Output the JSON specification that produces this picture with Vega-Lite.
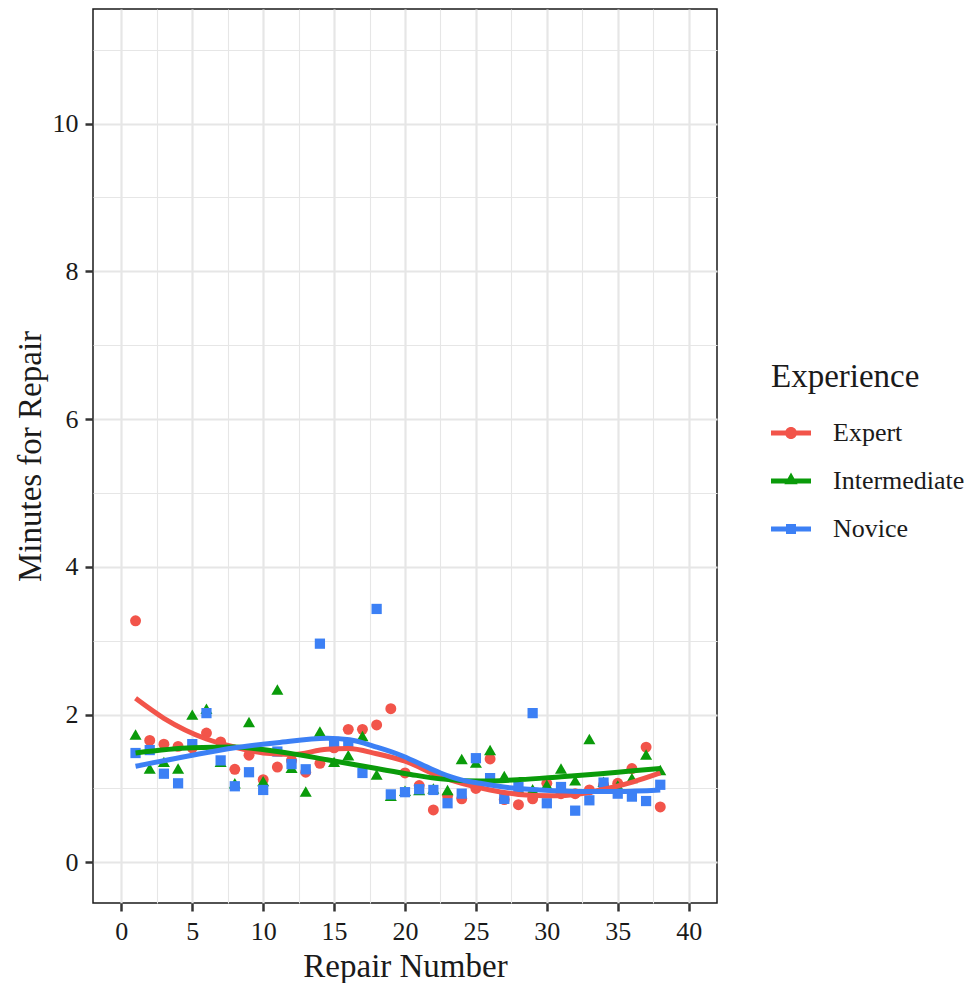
{
  "$schema": "https://vega.github.io/schema/vega-lite/v6.json",
  "width": 624,
  "height": 894,
  "autosize": "none",
  "padding": {"left": 93, "top": 9, "right": 256, "bottom": 80},
  "config": {
    "font": "Liberation Serif",
    "view": {"stroke": "#1a1a1a", "strokeWidth": 1.5},
    "axis": {"domain": false, "labelColor": "#1a1a1a", "titleColor": "#1a1a1a", "labelFontSize": 26, "titleFontSize": 33, "titleFontWeight": "normal", "tickColor": "#333333", "tickWidth": 2.5, "tickSize": 8, "labelPadding": 7, "gridColor": "#E6E6E6", "labelFlush": false, "labelOverlap": false}
  },
  "datasets": {
    "repairs": [
      {"n":1,"minutes":3.27,"Experience":"Expert"},{"n":2,"minutes":1.65,"Experience":"Expert"},{"n":3,"minutes":1.6,"Experience":"Expert"},{"n":4,"minutes":1.57,"Experience":"Expert"},{"n":5,"minutes":1.55,"Experience":"Expert"},{"n":6,"minutes":1.75,"Experience":"Expert"},{"n":7,"minutes":1.63,"Experience":"Expert"},{"n":8,"minutes":1.26,"Experience":"Expert"},{"n":9,"minutes":1.45,"Experience":"Expert"},{"n":10,"minutes":1.12,"Experience":"Expert"},{"n":11,"minutes":1.29,"Experience":"Expert"},{"n":12,"minutes":1.38,"Experience":"Expert"},{"n":13,"minutes":1.22,"Experience":"Expert"},{"n":14,"minutes":1.34,"Experience":"Expert"},{"n":15,"minutes":1.55,"Experience":"Expert"},{"n":16,"minutes":1.8,"Experience":"Expert"},{"n":17,"minutes":1.8,"Experience":"Expert"},{"n":18,"minutes":1.86,"Experience":"Expert"},{"n":19,"minutes":2.08,"Experience":"Expert"},{"n":20,"minutes":1.21,"Experience":"Expert"},{"n":21,"minutes":1.04,"Experience":"Expert"},{"n":22,"minutes":0.71,"Experience":"Expert"},{"n":23,"minutes":0.9,"Experience":"Expert"},{"n":24,"minutes":0.86,"Experience":"Expert"},{"n":25,"minutes":1.0,"Experience":"Expert"},{"n":26,"minutes":1.4,"Experience":"Expert"},{"n":27,"minutes":0.85,"Experience":"Expert"},{"n":28,"minutes":0.78,"Experience":"Expert"},{"n":29,"minutes":0.86,"Experience":"Expert"},{"n":30,"minutes":1.07,"Experience":"Expert"},{"n":31,"minutes":0.93,"Experience":"Expert"},{"n":32,"minutes":0.93,"Experience":"Expert"},{"n":33,"minutes":0.98,"Experience":"Expert"},{"n":34,"minutes":1.05,"Experience":"Expert"},{"n":35,"minutes":1.07,"Experience":"Expert"},{"n":36,"minutes":1.27,"Experience":"Expert"},{"n":37,"minutes":1.56,"Experience":"Expert"},{"n":38,"minutes":0.75,"Experience":"Expert"},
      {"n":1,"minutes":1.73,"Experience":"Intermediate"},{"n":2,"minutes":1.27,"Experience":"Intermediate"},{"n":3,"minutes":1.36,"Experience":"Intermediate"},{"n":4,"minutes":1.27,"Experience":"Intermediate"},{"n":5,"minutes":2.0,"Experience":"Intermediate"},{"n":6,"minutes":2.08,"Experience":"Intermediate"},{"n":7,"minutes":1.36,"Experience":"Intermediate"},{"n":8,"minutes":1.07,"Experience":"Intermediate"},{"n":9,"minutes":1.9,"Experience":"Intermediate"},{"n":10,"minutes":1.1,"Experience":"Intermediate"},{"n":11,"minutes":2.34,"Experience":"Intermediate"},{"n":12,"minutes":1.28,"Experience":"Intermediate"},{"n":13,"minutes":0.96,"Experience":"Intermediate"},{"n":14,"minutes":1.77,"Experience":"Intermediate"},{"n":15,"minutes":1.36,"Experience":"Intermediate"},{"n":16,"minutes":1.45,"Experience":"Intermediate"},{"n":17,"minutes":1.71,"Experience":"Intermediate"},{"n":18,"minutes":1.19,"Experience":"Intermediate"},{"n":19,"minutes":0.9,"Experience":"Intermediate"},{"n":20,"minutes":0.97,"Experience":"Intermediate"},{"n":21,"minutes":0.98,"Experience":"Intermediate"},{"n":22,"minutes":1.0,"Experience":"Intermediate"},{"n":23,"minutes":0.98,"Experience":"Intermediate"},{"n":24,"minutes":1.4,"Experience":"Intermediate"},{"n":25,"minutes":1.35,"Experience":"Intermediate"},{"n":26,"minutes":1.52,"Experience":"Intermediate"},{"n":27,"minutes":1.17,"Experience":"Intermediate"},{"n":28,"minutes":1.0,"Experience":"Intermediate"},{"n":29,"minutes":0.99,"Experience":"Intermediate"},{"n":30,"minutes":1.05,"Experience":"Intermediate"},{"n":31,"minutes":1.27,"Experience":"Intermediate"},{"n":32,"minutes":1.11,"Experience":"Intermediate"},{"n":33,"minutes":1.67,"Experience":"Intermediate"},{"n":34,"minutes":1.09,"Experience":"Intermediate"},{"n":35,"minutes":1.04,"Experience":"Intermediate"},{"n":36,"minutes":1.14,"Experience":"Intermediate"},{"n":37,"minutes":1.46,"Experience":"Intermediate"},{"n":38,"minutes":1.25,"Experience":"Intermediate"},
      {"n":1,"minutes":1.48,"Experience":"Novice"},{"n":2,"minutes":1.52,"Experience":"Novice"},{"n":3,"minutes":1.2,"Experience":"Novice"},{"n":4,"minutes":1.07,"Experience":"Novice"},{"n":5,"minutes":1.6,"Experience":"Novice"},{"n":6,"minutes":2.02,"Experience":"Novice"},{"n":7,"minutes":1.38,"Experience":"Novice"},{"n":8,"minutes":1.03,"Experience":"Novice"},{"n":9,"minutes":1.22,"Experience":"Novice"},{"n":10,"minutes":0.98,"Experience":"Novice"},{"n":11,"minutes":1.5,"Experience":"Novice"},{"n":12,"minutes":1.33,"Experience":"Novice"},{"n":13,"minutes":1.26,"Experience":"Novice"},{"n":14,"minutes":2.96,"Experience":"Novice"},{"n":15,"minutes":1.63,"Experience":"Novice"},{"n":16,"minutes":1.6,"Experience":"Novice"},{"n":17,"minutes":1.21,"Experience":"Novice"},{"n":18,"minutes":3.43,"Experience":"Novice"},{"n":19,"minutes":0.92,"Experience":"Novice"},{"n":20,"minutes":0.95,"Experience":"Novice"},{"n":21,"minutes":0.99,"Experience":"Novice"},{"n":22,"minutes":0.98,"Experience":"Novice"},{"n":23,"minutes":0.8,"Experience":"Novice"},{"n":24,"minutes":0.93,"Experience":"Novice"},{"n":25,"minutes":1.41,"Experience":"Novice"},{"n":26,"minutes":1.14,"Experience":"Novice"},{"n":27,"minutes":0.86,"Experience":"Novice"},{"n":28,"minutes":1.02,"Experience":"Novice"},{"n":29,"minutes":2.02,"Experience":"Novice"},{"n":30,"minutes":0.8,"Experience":"Novice"},{"n":31,"minutes":1.02,"Experience":"Novice"},{"n":32,"minutes":0.7,"Experience":"Novice"},{"n":33,"minutes":0.84,"Experience":"Novice"},{"n":34,"minutes":1.08,"Experience":"Novice"},{"n":35,"minutes":0.93,"Experience":"Novice"},{"n":36,"minutes":0.89,"Experience":"Novice"},{"n":37,"minutes":0.83,"Experience":"Novice"},{"n":38,"minutes":1.05,"Experience":"Novice"}
    ],
    "smooth": [
      {"n":1,"fit":2.22,"Experience":"Expert"},{"n":3,"fit":1.95,"Experience":"Expert"},{"n":6,"fit":1.67,"Experience":"Expert"},{"n":8,"fit":1.56,"Experience":"Expert"},{"n":10,"fit":1.48,"Experience":"Expert"},{"n":12,"fit":1.46,"Experience":"Expert"},{"n":14.5,"fit":1.53,"Experience":"Expert"},{"n":16,"fit":1.54,"Experience":"Expert"},{"n":18,"fit":1.47,"Experience":"Expert"},{"n":20,"fit":1.37,"Experience":"Expert"},{"n":22.5,"fit":1.16,"Experience":"Expert"},{"n":24,"fit":1.07,"Experience":"Expert"},{"n":26,"fit":0.98,"Experience":"Expert"},{"n":28,"fit":0.92,"Experience":"Expert"},{"n":30.3,"fit":0.9,"Experience":"Expert"},{"n":32.4,"fit":0.93,"Experience":"Expert"},{"n":34.5,"fit":1.01,"Experience":"Expert"},{"n":36.1,"fit":1.09,"Experience":"Expert"},{"n":38,"fit":1.21,"Experience":"Expert"},
      {"n":1,"fit":1.48,"Experience":"Intermediate"},{"n":5,"fit":1.55,"Experience":"Intermediate"},{"n":8,"fit":1.56,"Experience":"Intermediate"},{"n":11,"fit":1.5,"Experience":"Intermediate"},{"n":14.5,"fit":1.39,"Experience":"Intermediate"},{"n":18,"fit":1.27,"Experience":"Intermediate"},{"n":20.4,"fit":1.19,"Experience":"Intermediate"},{"n":22.5,"fit":1.13,"Experience":"Intermediate"},{"n":25.3,"fit":1.1,"Experience":"Intermediate"},{"n":28.1,"fit":1.12,"Experience":"Intermediate"},{"n":31,"fit":1.16,"Experience":"Intermediate"},{"n":33.8,"fit":1.2,"Experience":"Intermediate"},{"n":36.1,"fit":1.24,"Experience":"Intermediate"},{"n":38,"fit":1.27,"Experience":"Intermediate"},
      {"n":1,"fit":1.3,"Experience":"Novice"},{"n":5,"fit":1.45,"Experience":"Novice"},{"n":8,"fit":1.55,"Experience":"Novice"},{"n":11,"fit":1.62,"Experience":"Novice"},{"n":14.5,"fit":1.68,"Experience":"Novice"},{"n":16.1,"fit":1.66,"Experience":"Novice"},{"n":18,"fit":1.56,"Experience":"Novice"},{"n":19.7,"fit":1.45,"Experience":"Novice"},{"n":21.1,"fit":1.33,"Experience":"Novice"},{"n":22.5,"fit":1.21,"Experience":"Novice"},{"n":23.9,"fit":1.12,"Experience":"Novice"},{"n":25.3,"fit":1.07,"Experience":"Novice"},{"n":27.4,"fit":1.01,"Experience":"Novice"},{"n":29.6,"fit":0.98,"Experience":"Novice"},{"n":32.6,"fit":0.96,"Experience":"Novice"},{"n":35,"fit":0.96,"Experience":"Novice"},{"n":38,"fit":0.98,"Experience":"Novice"}
    ]
  },
  "data": {"name": "repairs"},
  "encoding": {
    "x": {"field": "n", "type": "quantitative", "scale": {"domain": [-2, 42], "nice": false, "zero": false},
      "axis": {"title": "Repair Number", "titlePadding": 6, "values": [0,2.5,5,7.5,10,12.5,15,17.5,20,22.5,25,27.5,30,32.5,35,37.5,40],
        "labelExpr": "datum.value % 5 === 0 ? datum.label : ''",
        "gridWidth": {"condition": {"test": "datum.value % 5 === 0", "value": 2.2}, "value": 1.1},
        "tickOpacity": {"condition": {"test": "datum.value % 5 === 0", "value": 1}, "value": 0}}},
    "y": {"field": "minutes", "type": "quantitative", "scale": {"domain": [-0.55, 11.55], "nice": false, "zero": false},
      "axis": {"title": "Minutes for Repair", "titlePadding": 5, "values": [0,1,2,3,4,5,6,7,8,9,10,11],
        "labelExpr": "datum.value % 2 === 0 ? datum.label : ''",
        "gridWidth": {"condition": {"test": "datum.value % 2 === 0", "value": 2.2}, "value": 1.1},
        "tickOpacity": {"condition": {"test": "datum.value % 2 === 0", "value": 1}, "value": 0}}}
  },
  "layer": [
    {"transform": [{"filter": "datum.Experience === 'Expert'"}], "mark": {"type": "point", "filled": true, "opacity": 1, "shape": "circle", "size": 120, "color": "#F2544A"}},
    {"transform": [{"filter": "datum.Experience === 'Intermediate'"}], "mark": {"type": "point", "filled": true, "opacity": 1, "shape": "triangle-up", "size": 145, "color": "#0A9B0A"}},
    {"transform": [{"filter": "datum.Experience === 'Novice'"}], "mark": {"type": "point", "filled": true, "opacity": 1, "shape": "square", "size": 105, "color": "#3C80F5"}},
    {"data": {"name": "smooth"}, "transform": [{"filter": "datum.Experience === 'Expert'"}], "mark": {"type": "line", "strokeWidth": 5, "color": "#F2544A", "interpolate": "monotone"}, "encoding": {"y": {"field": "fit", "type": "quantitative"}}},
    {"data": {"name": "smooth"}, "transform": [{"filter": "datum.Experience === 'Intermediate'"}], "mark": {"type": "line", "strokeWidth": 5, "color": "#0A9B0A", "interpolate": "monotone"}, "encoding": {"y": {"field": "fit", "type": "quantitative"}}},
    {"data": {"name": "smooth"}, "transform": [{"filter": "datum.Experience === 'Novice'"}], "mark": {"type": "line", "strokeWidth": 5, "color": "#3C80F5", "interpolate": "monotone"}, "encoding": {"y": {"field": "fit", "type": "quantitative"}}},
    {"mark": {"type": "point", "filled": true, "opacity": 0, "size": 1600},
      "encoding": {
        "color": {"field": "Experience", "type": "nominal", "scale": {"domain": ["Expert","Intermediate","Novice"], "range": ["#F2544A","#0A9B0A","#3C80F5"]},
          "legend": {"title": "Experience", "orient": "none", "legendX": 678, "legendY": 352, "titleFontSize": 33, "titleFontWeight": "normal", "titleColor": "#1a1a1a", "titlePadding": 19, "labelFontSize": 26, "labelColor": "#1a1a1a", "labelOffset": 22, "rowPadding": 15, "symbolOpacity": 1, "symbolSize": 1600, "symbolStrokeWidth": 0, "padding": 0}},
        "shape": {"field": "Experience", "type": "nominal", "scale": {"domain": ["Expert","Intermediate","Novice"], "range": [
            "M -1 -0.12 L 1 -0.12 L 1 0.12 L -1 0.12 Z M -0.3 0 A 0.3 0.3 0 1 1 0.3 0 A 0.3 0.3 0 1 1 -0.3 0 Z",
            "M -1 -0.12 L 1 -0.12 L 1 0.12 L -1 0.12 Z M 0 -0.42 L 0.33 0.16 L -0.33 0.16 Z",
            "M -1 -0.12 L 1 -0.12 L 1 0.12 L -1 0.12 Z M -0.25 -0.25 L 0.25 -0.25 L 0.25 0.25 L -0.25 0.25 Z"]},
          "legend": {"title": "Experience", "orient": "none", "legendX": 678, "legendY": 352, "titleFontSize": 33, "titleFontWeight": "normal", "titleColor": "#1a1a1a", "titlePadding": 19, "labelFontSize": 26, "labelColor": "#1a1a1a", "labelOffset": 22, "rowPadding": 15, "symbolOpacity": 1, "symbolSize": 1600, "symbolStrokeWidth": 0, "padding": 0}}
      }}
  ]
}
